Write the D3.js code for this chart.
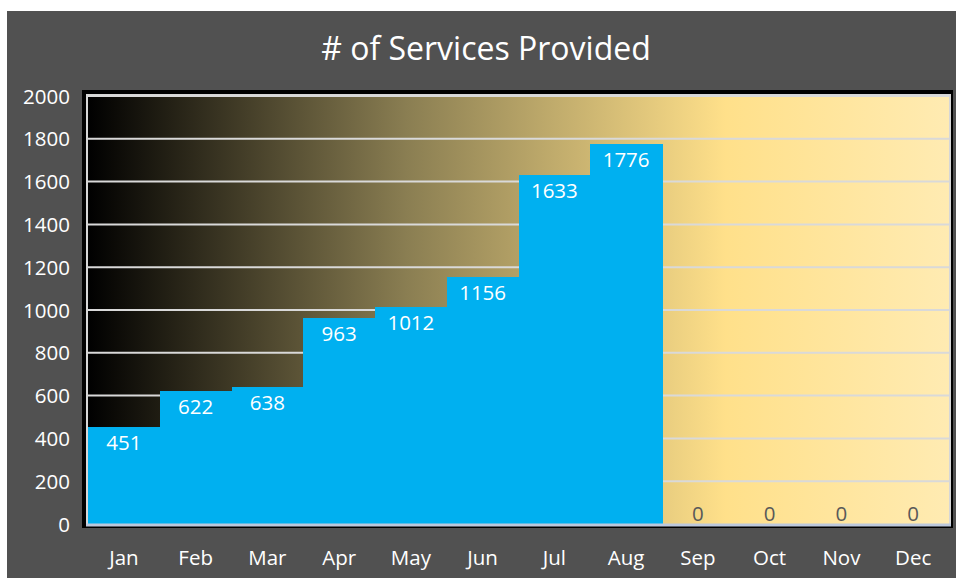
<!DOCTYPE html>
<html>
<head>
<meta charset="utf-8">
<script src="https://cdn.jsdelivr.net/npm/d3@7"></script>
<style>
  body { margin: 0; background: #fff; }
  svg text { font-family: "Open Sans", "Noto Sans", sans-serif; }
</style>
</head>
<body>
<svg id="chart" width="956" height="578"></svg>
<script>
// data
const months = ['Jan', 'Feb', 'Mar', 'Apr', 'May', 'Jun', 'Jul', 'Aug', 'Sep', 'Oct', 'Nov', 'Dec']
const services = [451, 622, 638, 963, 1012, 1156, 1633, 1776, 0, 0, 0, 0]
const yTicks = [0, 200, 400, 600, 800, 1000, 1200, 1400, 1600, 1800, 2000]

const svg = d3.select('#chart')

// dark chart area
svg.append('rect')
    .attr('x', 7).attr('y', 11)
    .attr('width', 949).attr('height', 567)
    .attr('fill', '#515151')

const plot = { left: 88, right: 949, top: 96, bottom: 524 }

const x = d3.scaleBand()
    .domain(months)
    .range([plot.left, plot.right])
    .padding(0)

const y = d3.scaleLinear()
    .domain([0, 2000])
    .range([plot.bottom, plot.top])

// background gradient of the plot area
const defs = svg.append('defs')
const grad = defs.append('linearGradient')
    .attr('id', 'bgGrad')
    .attr('x1', '0%').attr('x2', '100%').attr('y1', '0%').attr('y2', '0%')
grad.append('stop').attr('offset', '0%').attr('stop-color', '#000000')
grad.append('stop').attr('offset', '37%').attr('stop-color', '#8a7e52')
grad.append('stop').attr('offset', '74%').attr('stop-color', '#ffe08a')
grad.append('stop').attr('offset', '100%').attr('stop-color', '#ffebb2')

// outer black frame
svg.append('rect')
    .attr('x', 82).attr('y', 90)
    .attr('width', 871).attr('height', 438)
    .attr('fill', '#000')

svg.append('rect')
    .attr('x', 86).attr('y', 94)
    .attr('width', 865).attr('height', 432)
    .attr('fill', '#d6d6d6')

svg.append('rect')
    .attr('x', plot.left).attr('y', plot.top)
    .attr('width', plot.right - plot.left).attr('height', plot.bottom - plot.top)
    .attr('fill', 'url(#bgGrad)')

// gridlines
svg.append('g')
    .selectAll('line')
    .data(yTicks.slice(1))
    .enter().append('line')
    .attr('x1', plot.left).attr('x2', plot.right)
    .attr('y1', d => y(d)).attr('y2', d => y(d))
    .attr('stroke', '#d9d9d9')
    .attr('stroke-width', 2)

// bars (slightly widened so neighbours don't leave a seam)
svg.append('g')
    .attr('shape-rendering', 'crispEdges')
    .selectAll('rect')
    .data(services)
    .enter().append('rect')
    .attr('x', (d, i) => x(months[i]))
    .attr('y', d => y(d))
    .attr('width', (d, i) => x.bandwidth() + (i < months.length - 1 ? 1 : 0))
    .attr('height', d => y(0) - y(d))
    .attr('fill', '#00b0f0')

// baseline
svg.append('line')
    .attr('x1', plot.left - 2).attr('x2', plot.right + 2)
    .attr('y1', y(0) + 1).attr('y2', y(0) + 1)
    .attr('stroke', '#bcc8dc')
    .attr('stroke-width', 3)

// value labels
svg.append('g')
    .selectAll('text')
    .data(services)
    .enter().append('text')
    .attr('x', (d, i) => x(months[i]) + x.bandwidth() / 2)
    .attr('y', d => d > 0 ? y(d) + 23 : y(0) - 3)
    .attr('text-anchor', 'middle')
    .attr('font-size', 20.5)
    .attr('fill', d => d > 0 ? '#ffffff' : '#595959')
    .text(d => d)

// y axis labels
const yAxis = svg.append('g')
    .attr('transform', 'translate(70,0)')
    .call(d3.axisLeft(y).tickValues(yTicks).tickFormat(d3.format('d')).tickSize(0).tickPadding(0))
yAxis.select('.domain').remove()
yAxis.selectAll('text')
    .attr('font-size', 20.5)
    .attr('fill', '#ffffff')
    .attr('dy', '0.35em')

// x axis labels
const xAxis = svg.append('g')
    .attr('transform', 'translate(0,' + (plot.bottom + 23) + ')')
    .call(d3.axisBottom(x).tickSize(0).tickPadding(0))
xAxis.select('.domain').remove()
xAxis.selectAll('text')
    .attr('font-size', 20.5)
    .attr('fill', '#ffffff')
    .attr('dy', '0.9em')

// title
svg.append('text')
    .attr('x', 486).attr('y', 60)
    .attr('text-anchor', 'middle')
    .attr('font-size', 32)
    .attr('fill', '#ffffff')
    .text('# of Services Provided')
</script>
</body>
</html>
